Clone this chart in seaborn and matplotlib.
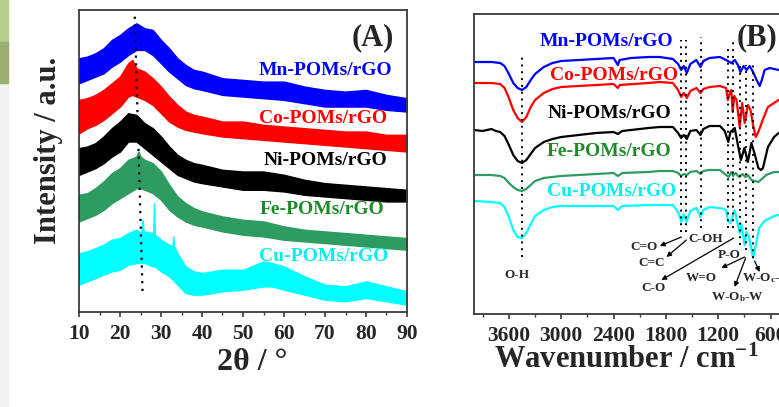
import numpy as np
import pandas as pd
import matplotlib
matplotlib.use("Agg")
import matplotlib.pyplot as plt
from matplotlib.patches import Rectangle
from matplotlib.ticker import MultipleLocator
import seaborn as sns

# ---------------- XRD (A): band envelopes (a.u.) ----------------
mn_x = [10, 12, 14, 16, 18, 20, 22, 24, 26, 28, 30, 32, 34, 36, 38, 40, 45, 50, 55, 60, 65, 70, 75, 80, 85, 90]
mn_hi = [762, 767, 777, 792, 817, 832, 852, 867, 852, 847, 817, 792, 762, 742, 727, 722, 702, 697, 692, 692, 677, 667, 662, 667, 652, 642]
mn_lo = [687, 697, 707, 717, 737, 752, 772, 787, 787, 772, 747, 722, 702, 682, 672, 667, 652, 647, 642, 637, 627, 617, 617, 617, 607, 602]

co_x = [10, 12, 14, 16, 18, 20, 22, 23, 24, 26, 28, 30, 32, 34, 36, 38, 40, 45, 50, 55, 60, 65, 70, 75, 80, 85, 90]
co_hi = [637, 642, 652, 667, 687, 707, 747, 757, 732, 722, 702, 677, 647, 622, 602, 592, 587, 572, 572, 562, 557, 552, 547, 542, 542, 532, 532]
co_lo = [537, 552, 562, 577, 597, 617, 647, 652, 647, 637, 622, 597, 572, 557, 547, 542, 537, 527, 522, 517, 512, 507, 502, 497, 492, 487, 482]

ni_x = [10, 12, 14, 16, 18, 20, 22, 24, 26, 28, 30, 32, 34, 36, 38, 40, 45, 50, 55, 60, 65, 70, 75, 80, 85, 90]
ni_hi = [492, 497, 507, 527, 552, 572, 597, 592, 567, 552, 527, 497, 472, 457, 447, 442, 427, 422, 422, 412, 397, 387, 382, 377, 372, 367]
ni_lo = [412, 422, 432, 447, 467, 482, 512, 512, 492, 472, 452, 432, 412, 402, 392, 387, 377, 367, 367, 362, 352, 347, 342, 337, 332, 332]

fe_x = [10, 12, 14, 16, 18, 20, 22, 24, 24.5, 25, 26, 28, 30, 32, 34, 36, 38, 40, 45, 50, 55, 60, 65, 70, 75, 80, 85, 90]
fe_hi = [352, 357, 372, 392, 417, 432, 457, 467, 482, 467, 457, 447, 422, 382, 347, 327, 312, 302, 287, 277, 272, 257, 247, 242, 237, 232, 227, 222]
fe_lo = [272, 282, 292, 307, 327, 342, 357, 372, 372, 372, 367, 357, 337, 307, 287, 272, 262, 257, 242, 232, 227, 217, 212, 207, 202, 197, 192, 187]

cu_x = [10, 12, 14, 16, 18, 20, 22, 24, 25.2, 25.5, 25.8, 26, 28, 28.1, 28.3, 28.5, 30, 32, 32.8, 33, 33.2,
        34, 36, 38, 40, 45, 50, 55, 57, 60, 65, 70, 75, 80, 85, 90]
cu_hi = [177, 182, 192, 202, 217, 222, 237, 247, 237, 277, 237, 242, 237, 237, 327, 232, 217, 202, 197, 227, 197,
         177, 137, 122, 117, 127, 127, 152, 147, 137, 107, 82, 77, 92, 77, 62]
cu_lo = [82, 92, 102, 112, 122, 127, 142, 147, 147, 147, 147, 147, 137, 137, 137, 137, 122, 107, 97, 97, 92,
         82, 57, 52, 52, 62, 67, 77, 77, 67, 52, 37, 32, 42, 32, 22]

xrd_guide_x = [23.6, 25.5]
xrd_guide_y = [887, 62]

# ---------------- FTIR (B): transmittance (a.u., offset curves) ----------------
mn_wn = [4000, 3800, 3700, 3650, 3600, 3550, 3500, 3450, 3400, 3350, 3300, 3200, 3100, 3000, 2800, 2600, 2400, 2350,
         2330, 2200, 2000, 1870, 1720, 1660, 1625, 1595, 1560, 1520, 1450, 1404, 1370, 1300, 1180, 1110, 1050, 1010,
         975, 945, 910, 875, 840, 800, 760, 725, 700, 668, 611, 508, 450]
mn_t = [252, 252, 251, 248, 240, 231, 226, 224, 227, 234, 240, 247, 251, 253, 254, 255, 256, 249,
        254, 256, 257, 257, 255, 250, 244, 248, 241, 250, 254, 247, 253, 256, 257, 254, 251, 254,
        249, 242, 248, 244, 248, 242, 234, 228, 234, 244, 246, 244, 244]

co_wn = [4000, 3800, 3700, 3650, 3600, 3550, 3500, 3450, 3400, 3350, 3300, 3200, 3100, 3000, 2800, 2600, 2400, 2350,
         2330, 2000, 1870, 1720, 1660, 1625, 1595, 1560, 1520, 1450, 1404, 1370, 1300, 1180, 1110, 1090, 1065, 1050,
         1035, 1015, 990, 954, 925, 897, 860, 830, 800, 770, 740, 690, 630, 508, 450]
co_t = [231, 231, 230, 226, 216, 204, 196, 192, 197, 207, 214, 221, 225, 227, 228, 229, 230, 226,
        229, 231, 232, 231, 224, 217, 221, 216, 223, 226, 221, 225, 227, 228, 226, 214, 222, 224,
        202, 218, 214, 187, 211, 191, 209, 204, 189, 177, 182, 194, 207, 214, 214]

ni_wn = [4000, 3900, 3800, 3750, 3700, 3650, 3600, 3550, 3500, 3450, 3400, 3350, 3300, 3200, 3100, 3000, 2800, 2600,
         2400, 2350, 2300, 2000, 1870, 1720, 1660, 1625, 1595, 1560, 1520, 1450, 1404, 1370, 1300, 1180, 1125, 1085,
         1060, 1011, 970, 940, 900, 860, 820, 785, 740, 710, 687, 630, 560, 508, 450]
ni_t = [184, 183, 185, 183, 182, 178, 169, 159, 153, 151, 154, 160, 166, 172, 175, 177, 179, 181,
        182, 180, 183, 186, 187, 187, 181, 176, 179, 175, 183, 184, 179, 185, 188, 188, 183, 172,
        182, 186, 167, 154, 166, 152, 171, 161, 146, 144, 146, 167, 177, 181, 181]

fe_wn = [4000, 3800, 3700, 3650, 3600, 3550, 3500, 3450, 3400, 3350, 3300, 3200, 3100, 3000, 2800, 2600, 2400, 2350,
         2300, 2000, 1870, 1720, 1660, 1625, 1595, 1560, 1520, 1450, 1404, 1370, 1300, 1180, 1110, 1080, 1050, 1030,
         1000, 960, 920, 890, 860, 820, 780, 740, 700, 650, 560, 508, 450]
fe_t = [139, 139, 138, 136, 131, 127, 124, 123, 125, 129, 133, 136, 137, 138, 139, 140, 141, 138,
        141, 142, 143, 143, 141, 138, 140, 139, 142, 143, 140, 143, 144, 144, 139, 137, 142, 138,
        141, 137, 140, 137, 139, 134, 133, 132, 135, 139, 142, 142, 142]

cu_wn = [4000, 3800, 3700, 3650, 3600, 3550, 3500, 3450, 3400, 3350, 3300, 3200, 3100, 3000, 2800, 2600, 2400, 2350,
         2300, 2000, 1870, 1720, 1660, 1622, 1595, 1564, 1520, 1450, 1404, 1370, 1300, 1180, 1110, 1088, 1060, 1012,
         954, 935, 897, 880, 850, 800, 770, 730, 670, 560, 508, 450]
cu_t = [113, 112, 111, 107, 97, 84, 77, 76, 81, 90, 98, 104, 107, 108, 108, 108, 108, 104,
        108, 109, 109, 109, 102, 92, 100, 92, 103, 106, 97, 104, 107, 106, 104, 93, 91, 104,
        81, 90, 69, 82, 78, 56, 69, 86, 93, 98, 99, 99]

# dotted guide lines: (wavenumber, top, bottom)
guide_wn = [3450, 1625, 1565, 1400, 1090, 1035, 955, 885, 800]
guide_top = [257, 274, 274, 277, 269, 272, 249, 249, 249]
guide_bot = [57, 82, 82, 86, 86, 86, 69, 64, 56]

labels = ["Mn-POMs/rGO", "Co-POMs/rGO", "Ni-POMs/rGO", "Fe-POMs/rGO", "Cu-POMs/rGO"]
line_colors = ["#0000ff", "#ff0000", "#000000", "#2e9c62", "#00ffff"]
text_colors = ["#0000ff", "#ff0000", "#000000", "#1e8a28", "#00f0f0"]

# ---------------- style ----------------
sns.set_style("ticks")
plt.rcParams["font.family"] = ["Liberation Serif", "DejaVu Serif"]
plt.rcParams["font.weight"] = "bold"
plt.rcParams["mathtext.fontset"] = "custom"
plt.rcParams["mathtext.rm"] = "Liberation Serif:bold"
plt.rcParams["mathtext.default"] = "regular"

W, H = 779, 407
fig = plt.figure(figsize=(W / 100, H / 100), dpi=100)
fig.patch.set_facecolor("white")

# slide background strip on the left
fig.patches.append(Rectangle((0, 0), 8 / W, 1 - 83 / H, transform=fig.transFigure, color="#f2f2ef", zorder=0))
fig.patches.append(Rectangle((0, 1 - 42 / H), 8 / W, 42 / H, transform=fig.transFigure, color="#b6ce8a", zorder=0))
fig.patches.append(Rectangle((0, 1 - 83 / H), 8 / W, 41 / H, transform=fig.transFigure, color="#9aae6e", zorder=0))

axA = fig.add_axes([79 / W, (H - 312) / H, 328 / W, 302 / H])
axB = fig.add_axes([474 / W, (H - 314) / H, 314 / W, 300 / H])

for ax in (axA, axB):
    for sp in ax.spines.values():
        sp.set_color("#3a3a3a")
        sp.set_linewidth(1.3)
    ax.set_yticks([])
    ax.tick_params(axis="x", which="major", direction="out", length=3.5, width=1.2,
                   labelsize=15.5, pad=5, color="#3a3a3a")
    ax.tick_params(axis="x", which="minor", direction="out", length=2, width=1.0, color="#3a3a3a")

# ---------------- panel A ----------------
xrd = [(mn_x, mn_lo, mn_hi), (co_x, co_lo, co_hi), (ni_x, ni_lo, ni_hi), (fe_x, fe_lo, fe_hi), (cu_x, cu_lo, cu_hi)]
for (x, lo, hi), c in zip(xrd, line_colors):
    axA.fill_between(x, lo, hi, color=c, lw=1.0, edgecolor=c)

axA.plot(xrd_guide_x, xrd_guide_y, color="black", ls=(0, (1, 2.5)), lw=1.6)

axA.set_xlim(10, 90)
axA.set_ylim(0, 907)
axA.xaxis.set_major_locator(MultipleLocator(10))
axA.xaxis.set_minor_locator(MultipleLocator(5))

lab_x_A = [86.3, 85.1, 85.2, 84.6, 85.4]
lab_y_A = [725, 582, 454, 309, 167]
for t, c, x, y in zip(labels, text_colors, lab_x_A, lab_y_A):
    axA.text(x, y, t, color=c, fontsize=14, ha="right", va="center", fontweight="bold")
axA.text(81.7, 823, "(A)", fontsize=22, ha="center", va="center", fontweight="bold")

axA.set_xlabel("2θ / °", fontsize=23, fontweight="bold", va="center")
axA.xaxis.set_label_coords(0.527, -0.166)
axA.set_ylabel("Intensity / a.u.", fontsize=22, fontweight="bold", va="center")
axA.yaxis.set_label_coords(-0.0915, 0.536)

# ---------------- panel B ----------------
ftir = [(mn_wn, mn_t), (co_wn, co_t), (ni_wn, ni_t), (fe_wn, fe_t), (cu_wn, cu_t)]
for (wn, t), c in zip(ftir, line_colors):
    df = pd.DataFrame({"wn": wn, "T": t})
    sns.lineplot(data=df, x="wn", y="T", color=c, lw=1.6, ax=axB, sort=False)

axB.vlines(guide_wn, guide_bot, guide_top, colors="black", linestyles=(0, (1, 2.5)), lw=1.4)

axB.set_xlim(4000, 400)
axB.set_ylim(0, 300)
axB.xaxis.set_major_locator(MultipleLocator(600))
axB.xaxis.set_minor_locator(MultipleLocator(300))
axB.set_xticks([3600, 3000, 2400, 1800, 1200, 600])

lab_x_B = [1721, 1664, 1733, 1733, 1676]
lab_y_B = [272, 238, 201, 162, 122]
for t, c, x, y in zip(labels, text_colors, lab_x_B, lab_y_B):
    axB.text(x, y, t, color=c, fontsize=14, ha="right", va="center", fontweight="bold")
axB.text(760, 276, "(B)", fontsize=22, ha="center", va="center", fontweight="bold")

ann_fs = 9.5
axB.text(3508, 39, "O-H", fontsize=ann_fs, ha="center", va="center")
axB.text(1344, 75, "C-OH", fontsize=ann_fs, ha="center", va="center")
axB.text(1080, 59, "P-O", fontsize=ann_fs, ha="center", va="center")

arrows = [
    ("C=O", (2053, 67), (1622, 77), (1870, 68)),
    ("C=C", (1962, 51), (1565, 74), (1794, 57)),
    ("C-O", (1939, 26), (1023, 76), (1851, 34)),
    ("W=O", (1389, 36), (897, 57), (1164, 46)),
    ("W-O$_b$-W", (977, 17), (886, 56), (1012, 27)),
]
for txt, tpos, start, end in arrows:
    axB.text(tpos[0], tpos[1], txt, fontsize=ann_fs, ha="center", va="center")
    axB.annotate("", xy=end, xytext=start,
                 arrowprops=dict(arrowstyle="-|>", color="black", lw=0.9, mutation_scale=7, shrinkA=0, shrinkB=0))
axB.text(931, 36, "W-O$_c$-W", fontsize=ann_fs, ha="left", va="center")
axB.annotate("", xy=(725, 42), xytext=(783, 53),
             arrowprops=dict(arrowstyle="-|>", color="black", lw=0.9, mutation_scale=7, shrinkA=0, shrinkB=0))

axB.set_xlabel("Wavenumber / cm$^{-1}$", fontsize=22, fontweight="bold", va="center")
axB.xaxis.set_label_coords(0.484, -0.153)
axB.set_ylabel("Transmittance / %", fontsize=21, fontweight="bold", va="center")
axB.yaxis.set_label_coords(-0.102, 0.563)

fig.savefig("out.png", dpi=100, facecolor=fig.get_facecolor())
